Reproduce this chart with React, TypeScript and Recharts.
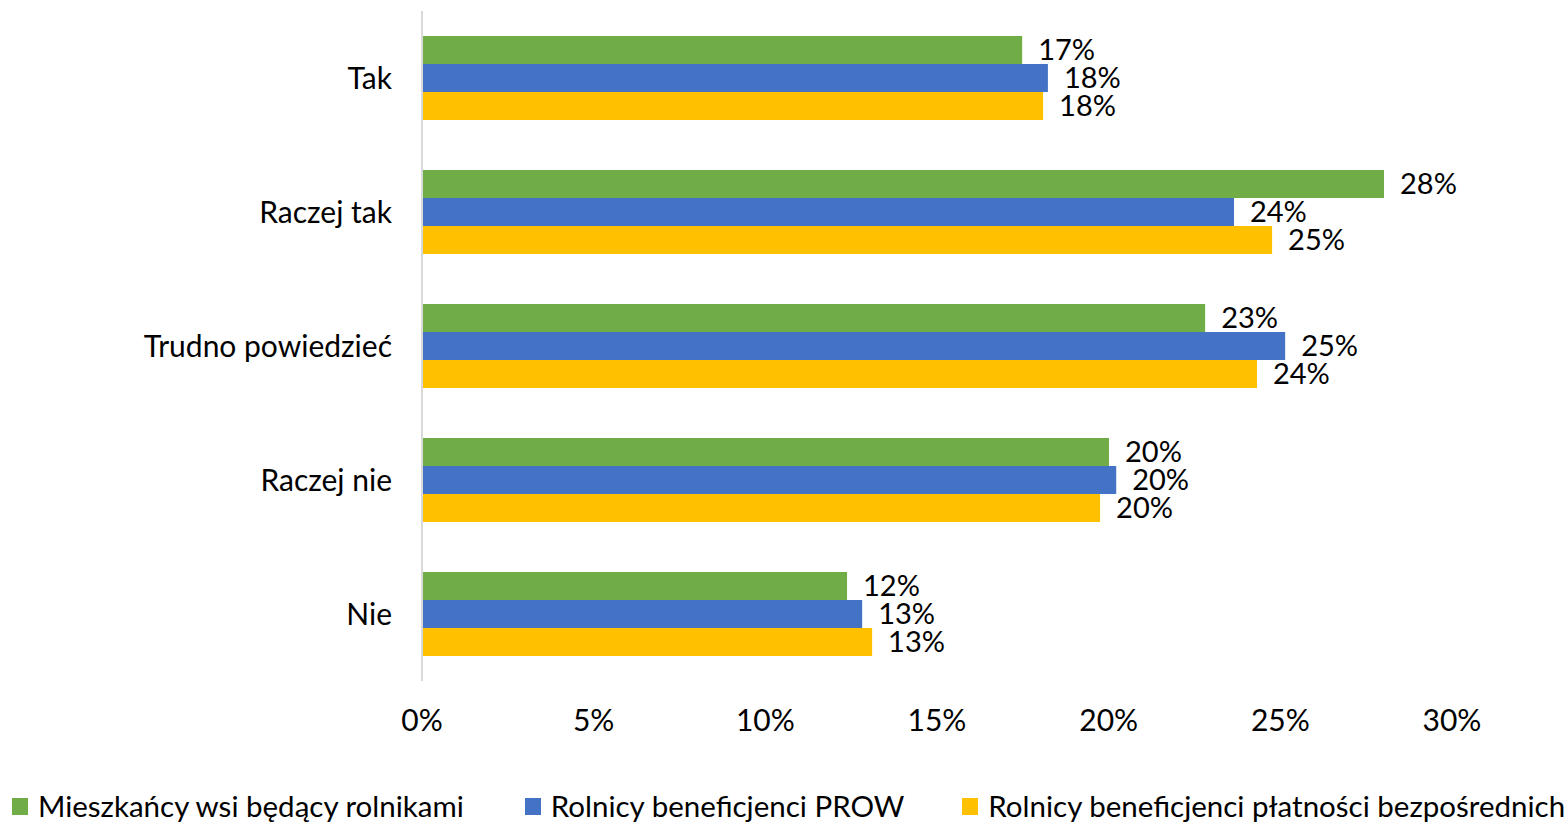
import React from 'react';
import { BarChart, Bar, XAxis, YAxis, Legend, LabelList } from 'recharts';

const categories = ['Tak', 'Raczej tak', 'Trudno powiedzieć', 'Raczej nie', 'Nie'];
const mieszkancy = [17.48, 28.02, 22.81, 20.01, 12.38];
const prow = [18.23, 23.65, 25.14, 20.22, 12.82];
const platnosci = [18.09, 24.76, 24.32, 19.75, 13.11];
const xTicks = [0, 5, 10, 15, 20, 25, 30];

const seriesNames = [
  'Mieszkańcy wsi będący rolnikami',
  'Rolnicy beneficjenci PROW',
  'Rolnicy beneficjenci płatności bezpośrednich',
];
const colors = ['#70AD47', '#4472C4', '#FFC000'];

const data = categories.map((c, i) => ({
  name: c,
  a: mieszkancy[i],
  b: prow[i],
  c: platnosci[i],
}));

const FONT = 'Lato, "Noto Sans", sans-serif';
const FS = 30;
const LFS = 29.5;

const fmt = (v: any) => `${Math.round(Number(v))}%`;

const LegendContent = () => (
  <div style={{ display: 'flex', alignItems: 'center', fontFamily: FONT, fontSize: LFS, color: '#000', whiteSpace: 'nowrap', lineHeight: '36px' }}>
    {seriesNames.map((n, i) => (
      <div key={n} style={{ display: 'flex', alignItems: 'center', marginRight: i === 0 ? 61 : i === 1 ? 58 : 0 }}>
        <span style={{ display: 'inline-block', width: 16, height: 17, background: colors[i], marginRight: 10 }} />
        <span>{n}</span>
      </div>
    ))}
  </div>
);

export default function App() {
  return (
    <div style={{ position: 'absolute', left: 0, top: 0, width: 1566, height: 822, background: '#fff' }}>
      <BarChart
        width={1566}
        height={822}
        data={data}
        layout="vertical"
        margin={{ top: 11, right: 114, left: 0, bottom: 81 }}
        barGap={0}
        barSize={28}
      >
        <XAxis
          type="number"
          domain={[0, 30]}
          ticks={xTicks}
          tickFormatter={(v) => `${v}%`}
          axisLine={false}
          tickLine={false}
          tickSize={0}
          tickMargin={29}
          height={60}
          interval={0}
          tick={{ fill: '#000', fontSize: FS, fontFamily: FONT }}
        />
        <YAxis
          type="category"
          dataKey="name"
          width={422}
          axisLine={{ stroke: '#D9D9D9', strokeWidth: 2 }}
          tickLine={false}
          tickSize={0}
          tickMargin={30}
          interval={0}
          tick={{ fill: '#000', fontSize: FS, fontFamily: FONT }}
        />
        <Legend
          verticalAlign="middle"
          align="center"
          layout="horizontal"
          content={<LegendContent />}
          wrapperStyle={{ top: 788, left: 12, width: 1554 }}
        />
        {(['a', 'b', 'c'] as const).map((k, i) => (
          <Bar key={k} dataKey={k} name={seriesNames[i]} fill={colors[i]} isAnimationActive={false}>
            <LabelList
              dataKey={k}
              position="right"
              offset={16}
              formatter={fmt}
              style={{ fill: '#000', fontSize: 29, fontFamily: FONT }}
            />
          </Bar>
        ))}
      </BarChart>
    </div>
  );
}
